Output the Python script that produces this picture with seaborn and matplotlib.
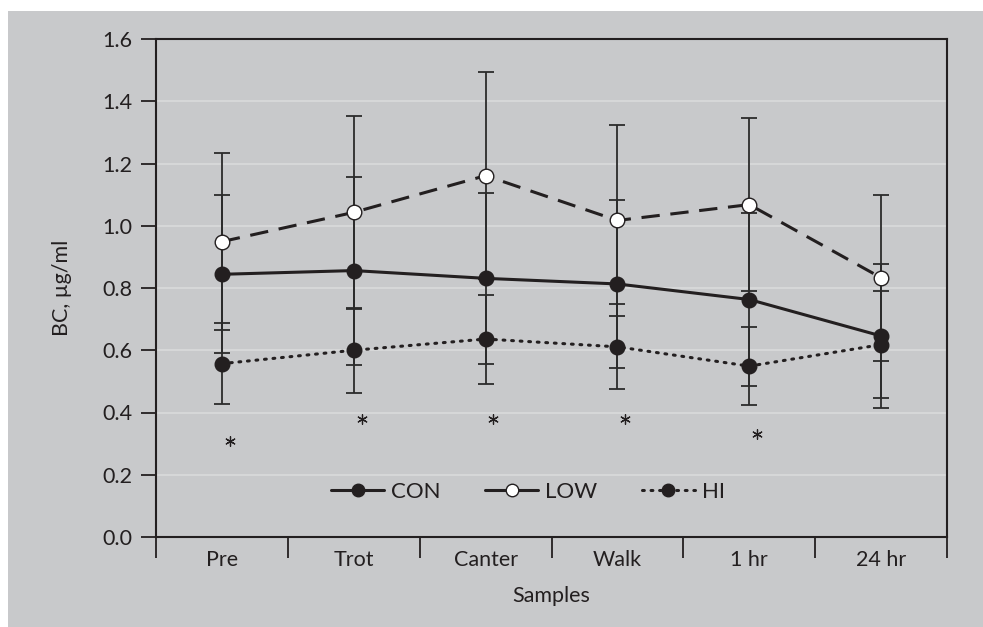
import numpy as np
import pandas as pd
import matplotlib
matplotlib.use("Agg")
import matplotlib.pyplot as plt
from matplotlib.lines import Line2D
import seaborn as sns

samples = ["Pre", "Trot", "Canter", "Walk", "1 hr", "24 hr"]
con_mean = [0.844, 0.856, 0.831, 0.813, 0.763, 0.646]
con_err = [0.254, 0.302, 0.274, 0.271, 0.278, 0.232]
low_mean = [0.949, 1.043, 1.161, 1.017, 1.068, 0.833]
low_err = [0.285, 0.310, 0.332, 0.306, 0.279, 0.266]
hi_mean = [0.557, 0.600, 0.636, 0.611, 0.549, 0.618]
hi_err = [0.130, 0.137, 0.143, 0.137, 0.125, 0.173]
star_idx = [0, 1, 2, 3, 4]
star_y = [0.31, 0.38, 0.38, 0.38, 0.33]
yticks = [0.0, 0.2, 0.4, 0.6, 0.8, 1.0, 1.2, 1.4, 1.6]

sns.set_theme(style="white")
plt.rcParams["font.family"] = ["Lato", "DejaVu Sans"]

BG = "#c8c9cb"
DARK = "#231f20"

fig = plt.figure(figsize=(9.83, 6.27), dpi=100, facecolor=BG)
# white strips at top and left edges
fig.patches.append(plt.Rectangle((0, 1 - 11 / 627), 1, 11 / 627, transform=fig.transFigure,
                                 facecolor="white", edgecolor="none"))
fig.patches.append(plt.Rectangle((0, 0), 8 / 983, 1, transform=fig.transFigure,
                                 facecolor="white", edgecolor="none"))
ax = fig.add_axes([156 / 983, 90 / 627, 791 / 983, 498 / 627])
ax.set_facecolor(BG)

x = np.arange(len(samples))
df = pd.DataFrame({
    "x": np.tile(x, 3),
    "value": con_mean + low_mean + hi_mean,
    "err": con_err + low_err + hi_err,
    "group": ["CON"] * 6 + ["LOW"] * 6 + ["HI"] * 6,
})

styles = {
    "CON": dict(dashes=None, mfc=DARK),
    "LOW": dict(dashes=(6, 3.5), mfc="white"),
    "HI": dict(dashes=(0.6, 2.2), mfc=DARK),
}

for g in ["CON", "LOW", "HI"]:
    d = df[df.group == g]
    ax.errorbar(d.x, d.value, yerr=d.err, fmt="none", ecolor="#2b2b2b",
                elinewidth=1.3, capsize=6, capthick=1.3, zorder=2)

for g in ["CON", "LOW", "HI"]:
    d = df[df.group == g]
    st = styles[g]
    sns.lineplot(x=d.x, y=d.value, ax=ax, color=DARK, lw=2.2, marker="o",
                 markersize=10.5, markerfacecolor=st["mfc"], markeredgecolor=DARK,
                 markeredgewidth=1.0, zorder=3, legend=False, errorbar=None)
    line = ax.lines[-1]
    if st["dashes"] is not None:
        line.set_dashes(st["dashes"])
        if g == "HI":
            line.set_dash_capstyle("round")

# significance asterisks
ax.scatter(np.array(star_idx) + 0.06, star_y, marker=(6, 2, 0), s=48,
           color=DARK, linewidths=0.9, zorder=3)

ax.set_xlim(-0.5, 5.5)
ax.set_ylim(0, 1.6)
ax.set_yticks(yticks)
ax.set_yticklabels([f"{v:.1f}" for v in yticks])
ax.set_xticks(x)
ax.set_xticklabels(samples)
ax.set_xticks(np.arange(-0.5, 6.0, 1.0), minor=True)
ax.tick_params(axis="x", which="major", length=0, pad=9, labelsize=15.5, colors=DARK)
ax.tick_params(axis="x", which="minor", length=15, width=1.3, color=DARK, bottom=True)
ax.tick_params(axis="y", which="major", length=11, width=1.3, color=DARK, labelsize=15.5,
               left=True, pad=6, labelcolor=DARK)
ax.grid(axis="y", color="#d9dadb", lw=1.2)
ax.set_axisbelow(True)
for s in ax.spines.values():
    s.set_color(DARK)
    s.set_linewidth(1.5)

ax.set_xlabel("Samples", fontsize=15.5, color=DARK, labelpad=12)
ax.set_ylabel("BC, µg/ml", fontsize=15.5, color=DARK, labelpad=22)

handles = [
    Line2D([], [], color=DARK, lw=2.2, ls="-", marker="o", markersize=9,
           markerfacecolor=DARK, markeredgecolor=DARK),
    Line2D([], [], color=DARK, lw=2.2, ls="-", marker="o", markersize=9,
           markerfacecolor="white", markeredgecolor=DARK),
    Line2D([], [], color=DARK, lw=2.2, ls=(0, (0.6, 2.2)), marker="o", markersize=9,
           markerfacecolor=DARK, markeredgecolor=DARK, dash_capstyle="round"),
]
ax.legend(handles, ["CON", "LOW", "HI"], loc="center", bbox_to_anchor=(0.47, 0.09),
          ncol=3, frameon=False, fontsize=16, handlelength=2.4, handletextpad=0.3,
          columnspacing=2.0, labelcolor=DARK)

fig.savefig("out.png", dpi=100, facecolor=BG)
